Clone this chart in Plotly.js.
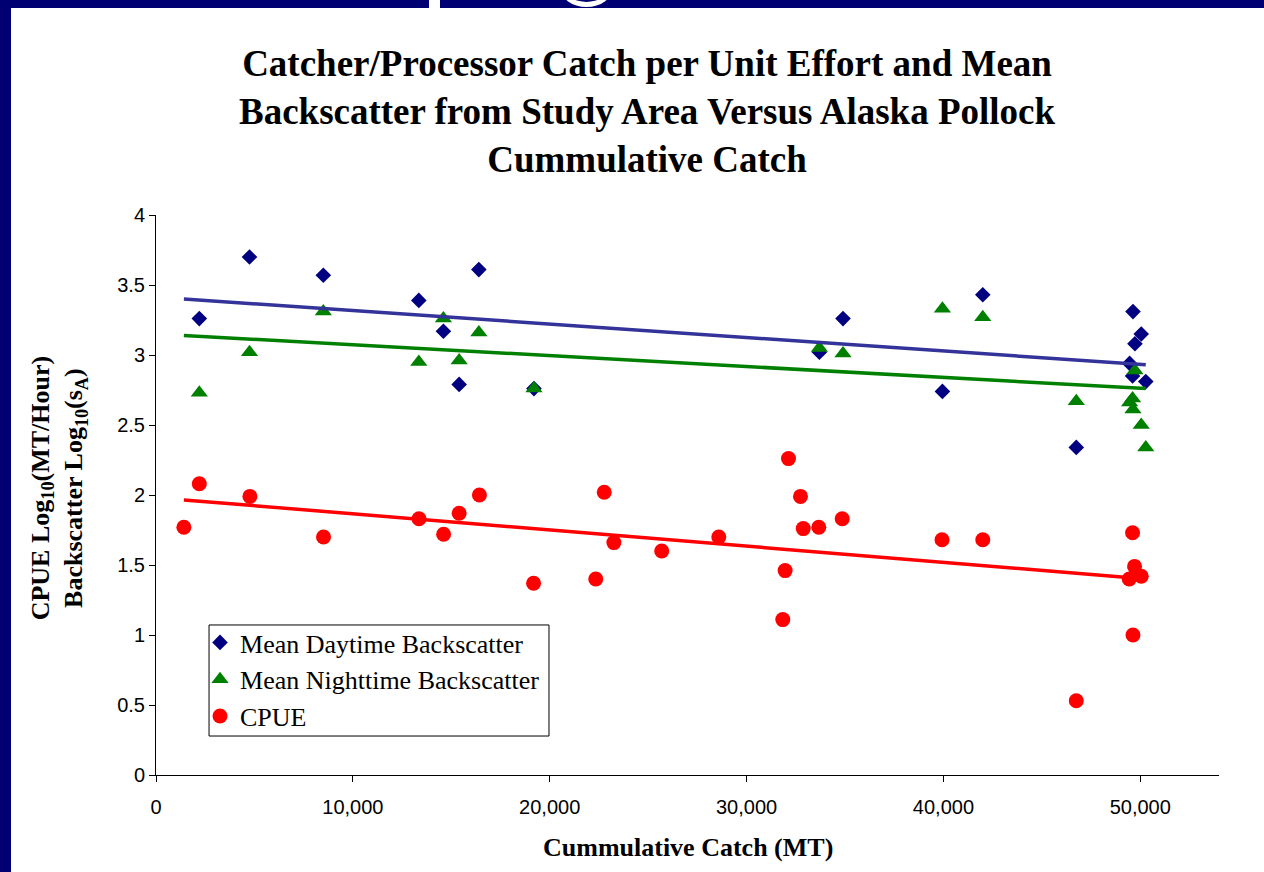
<!DOCTYPE html>
<html>
<head>
<meta charset="utf-8">
<script src="https://cdn.plot.ly/plotly-3.0.1.min.js"></script>
<style>
  html, body { margin: 0; padding: 0; width: 1264px; height: 872px; overflow: hidden; background: #000072; position: relative; }
  #chart { position: absolute; left: 11px; top: 8px; width: 1253px; height: 864px; background: #fff; }
  .frag1 { position: absolute; left: 429px; top: 0; width: 11px; height: 8px; background: #fff; }
  .frag2 { position: absolute; left: 560px; top: -33px; width: 43px; height: 30px; border: 5px solid #fff; border-radius: 50%; }
</style>
</head>
<body>
<div class="frag1"></div>
<div class="frag2"></div>
<div id="chart"></div>
<script>
// Cumulative catch (MT) for backscatter series
const xBackscatter = [2200, 4750, 8500, 13350, 14600, 15400, 16400, 19200, 33700, 34900, 39950, 42000, 46750, 49460, 49610, 49630, 49730, 50050, 50280];
const dayBackscatter = [3.26, 3.70, 3.57, 3.39, 3.17, 2.79, 3.61, 2.76, 3.02, 3.26, 2.74, 3.43, 2.34, 2.94, 2.85, 3.31, 3.08, 3.15, 2.81];
const nightBackscatter = [2.73, 3.02, 3.31, 2.95, 3.26, 2.96, 3.16, 2.76, 3.05, 3.01, 3.33, 3.27, 2.67, 2.66, 2.69, 2.61, 2.89, 2.50, 2.34];

// CPUE series
const xCpue = [1416, 2200, 4770, 8510, 13360, 14610, 15400, 16430, 19180, 22340, 22770, 23260, 25690, 28590, 31840, 31960, 32130, 32740, 32880, 33670, 34860, 39930, 42000, 46750, 49440, 49610, 49630, 49710, 50050];
const cpue = [1.77, 2.08, 1.99, 1.70, 1.83, 1.72, 1.87, 2.00, 1.37, 1.40, 2.02, 1.66, 1.60, 1.70, 1.11, 1.46, 2.26, 1.99, 1.76, 1.77, 1.83, 1.68, 1.68, 0.53, 1.40, 1.73, 1.00, 1.49, 1.42];

// Linear trendline end values
const trendX = [1416, 50280];
const dayTrend = [3.40, 2.93];
const nightTrend = [3.14, 2.76];
const cpueTrend = [1.965, 1.40];

const seriesNames = ['Mean Daytime Backscatter', 'Mean Nighttime Backscatter', 'CPUE'];
const xTickVals = [0, 10000, 20000, 30000, 40000, 50000];
const yTickVals = [0, 0.5, 1, 1.5, 2, 2.5, 3, 3.5, 4];

const serif = '"Liberation Serif", "Times New Roman", serif';
const sans = '"Liberation Sans", Arial, sans-serif';

const traces = [
  { x: xBackscatter, y: dayBackscatter, type: 'scatter', mode: 'markers', name: seriesNames[0], legendgroup: 'a',
    marker: { symbol: 'diamond', size: 12, color: '#000080' } },
  { x: xBackscatter, y: nightBackscatter, type: 'scatter', mode: 'markers', name: seriesNames[1], legendgroup: 'b',
    marker: { symbol: 'triangle-up', size: 15, color: '#008000' } },
  { x: xCpue, y: cpue, type: 'scatter', mode: 'markers', name: seriesNames[2], legendgroup: 'c',
    marker: { symbol: 'circle', size: 15, color: '#FF0000' } },
  { x: trendX, y: dayTrend, type: 'scatter', mode: 'lines', showlegend: false, hoverinfo: 'skip',
    line: { color: '#333399', width: 3.5 } },
  { x: trendX, y: nightTrend, type: 'scatter', mode: 'lines', showlegend: false, hoverinfo: 'skip',
    line: { color: '#008000', width: 3.5 } },
  { x: trendX, y: cpueTrend, type: 'scatter', mode: 'lines', showlegend: false, hoverinfo: 'skip',
    line: { color: '#FF0000', width: 3.5 } }
];

const layout = {
  width: 1253, height: 864,
  margin: { l: 145, r: 45, t: 207, b: 97, pad: 0 },
  paper_bgcolor: '#ffffff', plot_bgcolor: '#ffffff',
  showlegend: true,
  title: {
    text: 'Catcher/Processor Catch per Unit Effort and Mean<br>Backscatter from Study Area Versus Alaska Pollock<br>Cummulative Catch',
    font: { family: serif, size: 37, color: '#000000', weight: 'bold' },
    xref: 'container', x: 0.5076, xanchor: 'center',
    yref: 'container', y: 0.921, yanchor: 'top'
  },
  xaxis: {
    range: [0, 54000], showgrid: false, zeroline: false,
    showline: true, linecolor: '#000000', linewidth: 1,
    ticks: 'outside', ticklen: 6, tickcolor: '#000000', tickwidth: 1,
    tickvals: xTickVals, tickformat: ',d', ticklabelstandoff: 8,
    tickfont: { family: sans, size: 20, color: '#000000' }
  },
  yaxis: {
    range: [0, 4], showgrid: false, zeroline: false,
    showline: true, linecolor: '#000000', linewidth: 1,
    ticks: 'outside', ticklen: 6, tickcolor: '#000000', tickwidth: 1,
    tickvals: yTickVals,
    tickfont: { family: sans, size: 20, color: '#000000' }
  },
  shapes: [
    { type: 'rect', xref: 'paper', yref: 'paper', layer: 'below',
      x0: 0.0499, x1: 0.3697, y0: 0.0696, y1: 0.2679,
      line: { color: '#000000', width: 1 }, fillcolor: '#ffffff' }
  ],
  legend: {
    x: 0.0414, y: 0.2786, xanchor: 'left', yanchor: 'top',
    bgcolor: 'rgba(0,0,0,0)', borderwidth: 0,
    font: { family: serif, size: 26, color: '#000000' },
    tracegroupgap: 0, itemwidth: 30
  },
  annotations: [
    { text: 'CPUE Log<sub>10</sub>(MT/Hour)<br>Backscatter Log<sub>10</sub>(s<sub>A</sub>)',
      xref: 'paper', yref: 'paper', x: 0, y: 0.511, xanchor: 'center', yanchor: 'middle',
      xshift: -97.5, textangle: -90, showarrow: false,
      font: { family: serif, size: 26, color: '#000000', weight: 'bold' } },
    { text: 'Cummulative Catch (MT)',
      xref: 'paper', yref: 'paper', x: 0.5, y: 0, xanchor: 'center', yanchor: 'middle',
      yshift: -72, showarrow: false,
      font: { family: serif, size: 26, color: '#000000', weight: 'bold' } }
  ]
};

Plotly.newPlot('chart', traces, layout, { staticPlot: true, displayModeBar: false });
</script>
</body>
</html>
